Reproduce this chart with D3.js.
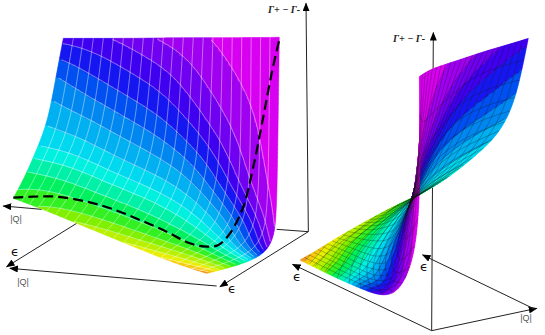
<!DOCTYPE html>
<html>
<head>
<meta charset="utf-8">
<style>
  html, body { margin: 0; padding: 0; background: #fff; }
  svg { display: block; }
</style>
<script src="https://cdn.jsdelivr.net/npm/d3@7"></script>
</head>
<body>
<script>
// surface nodes, rows run from the |Q| edge up to the top edge
const leftNodes = [
    [[40,595],[130,628],[230,670],[340,715],[450,760],[540,795],[620,820]],
    [[75,530],[170,575],[270,620],[385,670],[500,715],[610,760],[720,795]],
    [[105,460],[205,505],[310,555],[425,610],[545,665],[670,725],[790,765]],
    [[130,400],[240,440],[345,490],[460,545],[580,600],[710,660],[820,720]],
    [[150,330],[265,360],[375,405],[490,455],[610,510],[730,570],[830,650]],
    [[168,230],[285,250],[395,280],[505,320],[620,370],[735,420],[834,400]],
    [[190,115],[300,115],[410,115],[520,113],[630,113],[735,113],[838,112]]
];
const rightNodes = [
    [[372,535],[310,560],[250,592],[190,625],[130,660],[80,692],[30,720]],
    [[420,505],[375,530],[300,590],[245,630],[185,680],[150,725],[130,770]],
    [[480,470],[400,515],[345,555],[285,620],[225,700],[215,760],[225,812]],
    [[590,380],[470,450],[390,510],[325,610],[265,710],[265,780],[315,842]],
    [[640,320],[530,360],[420,440],[360,560],[310,690],[320,790],[378,720]],
    [[680,230],[590,250],[480,300],[410,420],[372,500],[358,610],[392,480]],
    [[715,55],[650,75],[590,92],[530,112],[470,132],[420,148],[388,170]]
];
// hue at each node, same for both views
const hueNodes = [
    [118,100,85,75,62,50,35],
    [135,125,120,115,115,105,120],
    [175,163,162,157,160,180,255],
    [190,190,192,190,192,218,290],
    [205,208,212,215,225,280,296],
    [222,237,245,252,275,285,300],
    [260,265,275,285,292,300,305]
];
const bandSteps = [45,58,72,88,105,125,145,165,180,195,210,225,240,255,268,280,292];
const bandColors = ["#f09a20","#f8c810","#e8ee00","#b8f000","#80f000","#30f020","#00f060","#00f0a8","#00f0e0",
    "#00d8f0","#00b0f0","#0088f0","#0050f0","#1818f0","#4000f0","#7000f0","#a000f0","#d800f0"];
const dashedCurve = [[40,593],[100,590],[170,590],[260,605],[340,628],[420,660],[500,695],[570,730],[620,740],
    [655,735],[690,700],[730,620],[760,500],[790,350],[815,220],[840,110]];

const width = 545;
const height = 335;
const fineSteps = 120;

const leftX = d3.scaleLinear().domain([0, 960]).range([0, 320]);
const leftY = d3.scaleLinear().domain([0, 900]).range([0, 300]);
const rightX = d3.scaleLinear().domain([0, 765]).range([290, 545]);
const rightY = d3.scaleLinear().domain([0, 945]).range([20, 335]);
const band = d3.scaleThreshold().domain(bandSteps).range(bandColors);

const svg = d3.select("body").append("svg").attr("width", width).attr("height", height);
const defs = svg.append("defs");
defs.append("filter").attr("id", "soft")
    .append("feGaussianBlur").attr("stdDeviation", 0.45);
defs.append("marker").attr("id", "arrow")
    .attr("viewBox", "0 0 10 8").attr("refX", 9).attr("refY", 4)
    .attr("markerUnits", "userSpaceOnUse").attr("markerWidth", 9).attr("markerHeight", 7)
    .attr("orient", "auto")
    .append("path").attr("d", "M0,0L10,4L0,8Z").attr("fill", "#000");

// blends a 7x7 table at (u, v), both 0..1
function blend(table) {
    const cols = d3.range(7).map(c => d3.interpolateBasis(table.map(r => r[c])));
    return (u, v) => d3.interpolateBasis(cols.map(f => f(v)))(u);
}

function surface(nodes, xScale, yScale) {
    const sx = blend(nodes.map(r => r.map(p => xScale(p[0]))));
    const sy = blend(nodes.map(r => r.map(p => yScale(p[1]))));
    return (u, v) => [sx(u, v), sy(u, v)];
}

const hueAt = blend(hueNodes);

// band edges in u,v space, used as the long mesh lines
const gridSize = 90;
const hueGrid = [];
d3.range(gridSize).forEach(j => d3.range(gridSize).forEach(i => {
    hueGrid.push(hueAt(i / (gridSize - 1), j / (gridSize - 1)));
}));
const bandEdges = d3.contours().size([gridSize, gridSize]).thresholds(bandSteps)(hueGrid);

function edgePath(at) {
    const p = d3.path();
    const toUnit = c => Math.max(0, Math.min(1, (c - .5) / (gridSize - 1)));
    const onBorder = q => q[0] < .6 || q[1] < .6 || q[0] > gridSize - .6 || q[1] > gridSize - .6;
    bandEdges.forEach(shape => shape.coordinates.forEach(poly => poly.forEach(ring => {
        let pen = false;
        ring.forEach(q => {
            if (onBorder(q)) { pen = false; return; }
            const s = at(toUnit(q[0]), toUnit(q[1]));
            if (pen) p.lineTo(s[0], s[1]); else p.moveTo(s[0], s[1]);
            pen = true;
        });
    })));
    return p.toString();
}

function drawSurface(at, meshColor, meshOpacity, meshWidth, rowCount, colCount) {
    const g = svg.append("g").attr("filter", "url(#soft)");
    const n = fineSteps;
    const pts = d3.range(n + 1).map(j => d3.range(n + 1).map(i => at(i / n, j / n)));
    const paths = new Map(bandColors.map(c => [c, d3.path()]));

    d3.range(n).forEach(j => d3.range(n).forEach(i => {
        let quad = [pts[j][i], pts[j][i + 1], pts[j + 1][i + 1], pts[j + 1][i]];
        if (d3.polygonArea(quad) < 0) quad.reverse();
        const p = paths.get(band(hueAt((i + .5) / n, (j + .5) / n)));
        p.moveTo(quad[0][0], quad[0][1]);
        quad.slice(1).forEach(q => p.lineTo(q[0], q[1]));
        p.closePath();
    }));

    bandColors.forEach(c => {
        g.append("path").attr("d", paths.get(c).toString())
            .attr("fill", c).attr("stroke", c).attr("stroke-width", .5);
    });

    const line = d3.line();
    const ts = d3.range(0, 1.001, 1 / 40);
    const strokeIt = sel => sel.attr("fill", "none").attr("stroke", meshColor)
        .attr("stroke-opacity", meshOpacity).attr("stroke-width", meshWidth);

    g.append("path").attr("d", edgePath(at)).call(strokeIt);
    d3.range(1, rowCount).forEach(k => {
        g.append("path").attr("d", line(ts.map(t => at(t, k / rowCount)))).call(strokeIt);
    });
    d3.range(1, colCount).forEach(k => {
        g.append("path").attr("d", line(ts.map(t => at(k / colCount, t)))).call(strokeIt);
    });
}

function axisLine(x1, y1, x2, y2, arrow) {
    svg.append("line").attr("x1", x1).attr("y1", y1).attr("x2", x2).attr("y2", y2)
        .attr("stroke", "#222").attr("stroke-width", 1)
        .attr("marker-end", arrow ? "url(#arrow)" : null);
}

function label(x, y, text) {
    svg.append("text").attr("x", x).attr("y", y).text(text)
        .attr("font-family", "Liberation Sans").attr("font-size", 9)
        .attr("text-anchor", "middle").attr("fill", "#555");
}

function epsilon(x, y) {
    svg.append("text").attr("x", x).attr("y", y).text("ϵ")
        .attr("font-family", "DejaVu Sans").attr("font-size", 13)
        .attr("text-anchor", "middle").attr("fill", "#111");
}

function gammaLabel(x, y) {
    svg.append("text").attr("x", x).attr("y", y).text("Γ+ − Γ-")
        .attr("font-family", "Liberation Serif").attr("font-size", 10)
        .attr("font-style", "italic").attr("font-weight", "bold")
        .attr("text-anchor", "middle").attr("fill", "#222");
}

// left view
axisLine(leftX(925), leftY(695), leftX(918), leftY(10), true);
axisLine(leftX(925), leftY(695), leftX(660), leftY(860), true);
axisLine(leftX(830), leftY(688), leftX(925), leftY(695), false);
axisLine(leftX(125), leftY(628), leftX(10), leftY(618), true);
axisLine(leftX(230), leftY(670), leftX(20), leftY(800), true);
axisLine(leftX(650), leftY(858), leftX(30), leftY(805), true);

drawSurface(surface(leftNodes, leftX, leftY), "#fff", .6, .7, 1, 22);

svg.append("path")
    .attr("d", d3.line().curve(d3.curveCatmullRom)(dashedCurve.map(p => [leftX(p[0]), leftY(p[1])])))
    .attr("fill", "none").attr("stroke", "#000").attr("stroke-width", 2.2)
    .attr("stroke-dasharray", "10,5");

label(16, 222, "|Q|");
epsilon(15, 256);
label(23, 285, "|Q|");
epsilon(232, 293);
gammaLabel(284, 13);

// right view
axisLine(rightX(425), rightY(932), rightX(430), rightY(38), true);
axisLine(rightX(425), rightY(932), rightX(8), rightY(733), true);
axisLine(rightX(425), rightY(932), rightX(740), rightY(865), true);
axisLine(rightX(735), rightY(868), rightX(398), rightY(705), true);

drawSurface(surface(rightNodes, rightX, rightY), "#111", .55, .5, 16, 22);

epsilon(297, 281);
epsilon(424, 271);
label(526, 321, "|Q|");
gammaLabel(409, 42);
</script>
</body>
</html>
